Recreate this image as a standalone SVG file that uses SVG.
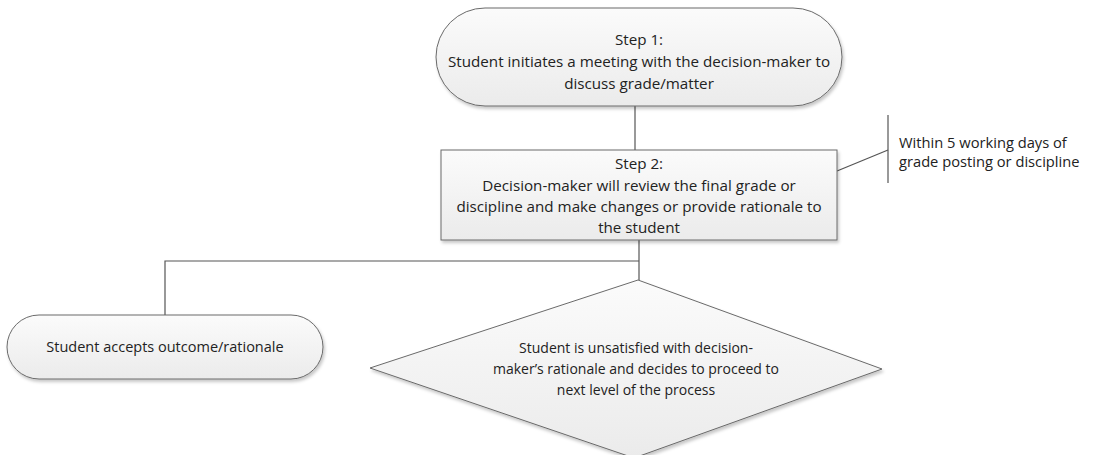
<svg xmlns="http://www.w3.org/2000/svg" width="1094" height="455" viewBox="0 0 1094 455">
<defs>
<linearGradient id="g" x1="0" y1="0" x2="0" y2="1">
<stop offset="0" stop-color="#fbfbfb"/>
<stop offset="1" stop-color="#ebebeb"/>
</linearGradient>
<filter id="sh" x="-5%" y="-10%" width="110%" height="130%">
<feDropShadow dx="1.5" dy="2.5" stdDeviation="1.5" flood-color="#000" flood-opacity="0.22"/>
</filter>
</defs>
<style>
.shape{fill:url(#g);stroke:#6a6a6a;stroke-width:1;filter:url(#sh)}
.ln{stroke:#555;stroke-width:1.2;fill:none}
text{font-family:"Open Sans","Liberation Sans",sans-serif;font-size:15.2px;fill:#222;text-anchor:middle}
.l{text-anchor:start;font-size:14.7px}
.a{font-size:14.5px}
.d{font-size:14px}
</style>
<rect width="1094" height="455" fill="#fff"/>
<g id="connectors">
<path class="ln" d="M635 106V150"/>
<path class="ln" d="M639 240V280"/>
<path class="ln" d="M639 261H165V315"/>
<path class="ln" d="M837 171L888 150"/>
<path class="ln" d="M888 115V183"/>
</g>
<g id="step1">
<rect class="shape" x="436" y="8" width="406" height="98" rx="49" ry="49"/>
<text x="639" y="45">Step 1:</text>
<text x="639" y="67">Student initiates a meeting with the decision-maker to</text>
<text x="639" y="89">discuss grade/matter</text>
</g>
<g id="step2">
<rect class="shape" x="441" y="150" width="396" height="90"/>
<text x="639" y="169">Step 2:</text>
<text x="639" y="191">Decision-maker will review the final grade or</text>
<text x="639" y="212">discipline and make changes or provide rationale to</text>
<text x="639" y="233">the student</text>
</g>
<g id="note">
<text class="l" x="899" y="148">Within 5 working days of</text>
<text class="l" x="899" y="167">grade posting or discipline</text>
</g>
<g id="accept">
<rect class="shape" x="7" y="315" width="316" height="64" rx="32" ry="32"/>
<text class="a" x="165" y="352">Student accepts outcome/rationale</text>
</g>
<g id="unsatisfied">
<polygon class="shape" points="638,280 882,369 634,458 370,368"/>
<text class="d" x="636" y="353">Student is unsatisfied with decision-</text>
<text class="d" x="636" y="374">maker’s rationale and decides to proceed to</text>
<text class="d" x="636" y="395">next level of the process</text>
</g>
</svg>
